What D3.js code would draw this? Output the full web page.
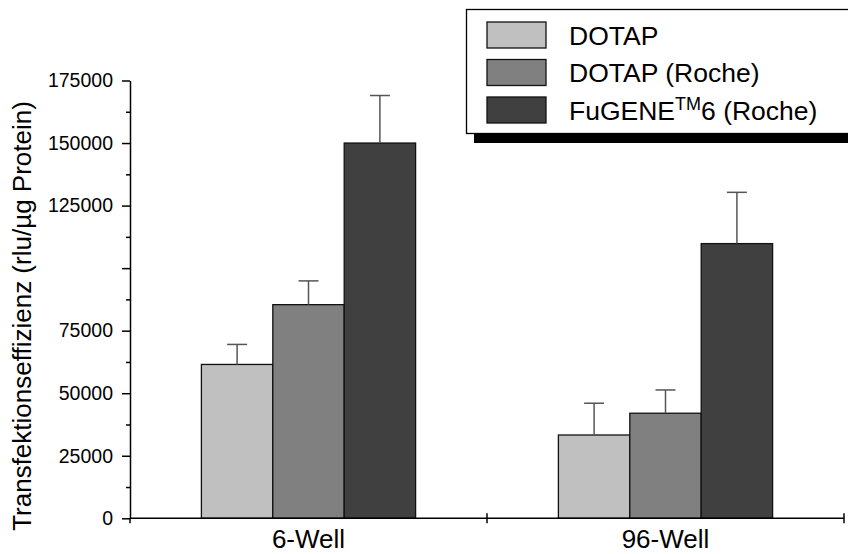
<!DOCTYPE html>
<html>
<head>
<meta charset="utf-8">
<script src="https://cdn.jsdelivr.net/npm/d3@7"></script>
<style>
  html, body { margin: 0; padding: 0; background: #fff; }
  svg { display: block; font-family: "Liberation Sans", Arial, Helvetica, sans-serif; }
</style>
</head>
<body>
<svg id="chart" width="848" height="554"></svg>
<script>
// Transfection efficiency per well format and reagent
const categories = ["6-Well", "96-Well"];
const series = ["DOTAP", "DOTAP (Roche)", "FuGENE6 (Roche)"];
const seriesColors = ["#c0c0c0", "#808080", "#404040"];
const means = [
  [61500, 85400, 150000],   // 6-Well
  [33300, 42000, 109800]    // 96-Well
];
const errors = [
  [8000, 9500, 19000],
  [12700, 9300, 20500]
];
const yTicks = [0, 25000, 50000, 75000, 100000, 125000, 150000, 175000];
// the 100000 tick carries no label
const yTickLabels = ["0", "25000", "50000", "75000", "", "125000", "150000", "175000"];
const yMinorTicks = [12500, 37500, 62500, 87500, 112500, 137500, 162500];

const svg = d3.select("#chart");

const x0 = d3.scaleBand().domain(categories).range([130, 844]).paddingInner(0).paddingOuter(0);
const bw = x0.bandwidth();
const x1 = d3.scaleBand().domain(series).range([bw * 0.2, bw * 0.8]).padding(0);
const y = d3.scaleLinear().domain([0, 175000]).range([518.3, 80.5]);

// bars
const groups = svg.append("g").selectAll("g")
  .data(categories)
  .join("g")
  .attr("transform", d => `translate(${x0(d)},0)`);

groups.selectAll("rect")
  .data((c, i) => series.map((s, j) => ({ s, j, v: means[i][j], e: errors[i][j] })))
  .join("rect")
  .attr("x", d => x1(d.s))
  .attr("y", d => y(d.v))
  .attr("width", x1.bandwidth())
  .attr("height", d => y(0) - y(d.v))
  .attr("fill", d => seriesColors[d.j])
  .attr("stroke", "#111")
  .attr("stroke-width", 1.3);

// error bars (upper only)
const eb = groups.selectAll("g.err")
  .data((c, i) => series.map((s, j) => ({ s, j, v: means[i][j], e: errors[i][j] })))
  .join("g").attr("class", "err");
eb.append("line")
  .attr("x1", d => x1(d.s) + x1.bandwidth() / 2)
  .attr("x2", d => x1(d.s) + x1.bandwidth() / 2)
  .attr("y1", d => y(d.v))
  .attr("y2", d => y(d.v + d.e))
  .attr("stroke", "#555").attr("stroke-width", 1.5);
eb.append("line")
  .attr("x1", d => x1(d.s) + x1.bandwidth() / 2 - 10)
  .attr("x2", d => x1(d.s) + x1.bandwidth() / 2 + 10)
  .attr("y1", d => y(d.v + d.e))
  .attr("y2", d => y(d.v + d.e))
  .attr("stroke", "#555").attr("stroke-width", 1.5);

// y axis
const yAxis = svg.append("g")
  .attr("transform", "translate(130,0)")
  .call(d3.axisLeft(y).tickValues(yTicks)
    .tickFormat((d, i) => yTickLabels[i])
    .tickSize(8).tickSizeOuter(0).tickPadding(9));
yAxis.selectAll("text").attr("font-size", 19.5).attr("fill", "#000").attr("font-family", "Liberation Sans, Arial, sans-serif");
yAxis.selectAll("line, path").attr("stroke", "#000").attr("stroke-width", 1.5);

const yMinor = svg.append("g")
  .attr("transform", "translate(130,0)")
  .call(d3.axisLeft(y).tickValues(yMinorTicks).tickFormat("").tickSize(4).tickSizeOuter(0));
yMinor.select("path").remove();
yMinor.selectAll("line").attr("stroke", "#000").attr("stroke-width", 1.5);

// x axis
const xAxis = svg.append("g");
xAxis.append("line")
  .attr("x1", x0.range()[0]).attr("x2", x0.range()[1])
  .attr("y1", y(0)).attr("y2", y(0))
  .attr("stroke", "#000").attr("stroke-width", 1.5);
const bounds = categories.map(c => x0(c)).concat([x0.range()[1]]);
xAxis.selectAll("line.tick")
  .data(bounds)
  .join("line").attr("class", "tick")
  .attr("x1", d => d).attr("x2", d => d)
  .attr("y1", d => d === x0.range()[0] ? y(0) : y(0) - 5)
  .attr("y2", y(0) + 5)
  .attr("stroke", "#000").attr("stroke-width", 1.5);
xAxis.selectAll("text")
  .data(categories)
  .join("text")
  .attr("x", d => x0(d) + bw / 2)
  .attr("y", 548)
  .attr("text-anchor", "middle")
  .attr("font-size", 26)
  .text(d => d);

// y axis title
svg.append("text")
  .attr("transform", "translate(31,316) rotate(-90)")
  .attr("text-anchor", "middle")
  .attr("font-size", 26)
  .text("Transfektionseffizienz (rlu/µg Protein)");

// legend with drop shadow
const legend = svg.append("g");
legend.append("rect")
  .attr("x", 474).attr("y", 17).attr("width", 400).attr("height", 126)
  .attr("fill", "#000");
legend.append("rect")
  .attr("x", 466.5).attr("y", 9.5).attr("width", 400).attr("height", 124)
  .attr("fill", "#fff").attr("stroke", "#000").attr("stroke-width", 1.3);

const rowY = [35, 72.5, 110];
const items = legend.selectAll("g.item")
  .data(series)
  .join("g").attr("class", "item")
  .attr("transform", (d, i) => `translate(0,${rowY[i]})`);
items.append("rect")
  .attr("x", 487).attr("y", -13).attr("width", 59).attr("height", 26)
  .attr("fill", (d, i) => seriesColors[i])
  .attr("stroke", "#111").attr("stroke-width", 1.3);
const labels = items.append("text")
  .attr("x", 569).attr("y", 9.5)
  .attr("font-size", 26.5);
labels.each(function(d) {
  const t = d3.select(this);
  if (d.startsWith("FuGENE")) {
    t.append("tspan").text("FuGENE");
    t.append("tspan").attr("font-size", 18).attr("dy", -10).text("TM");
    t.append("tspan").attr("dy", 10).text("6 (Roche)");
  } else {
    t.text(d);
  }
});
</script>
</body>
</html>
